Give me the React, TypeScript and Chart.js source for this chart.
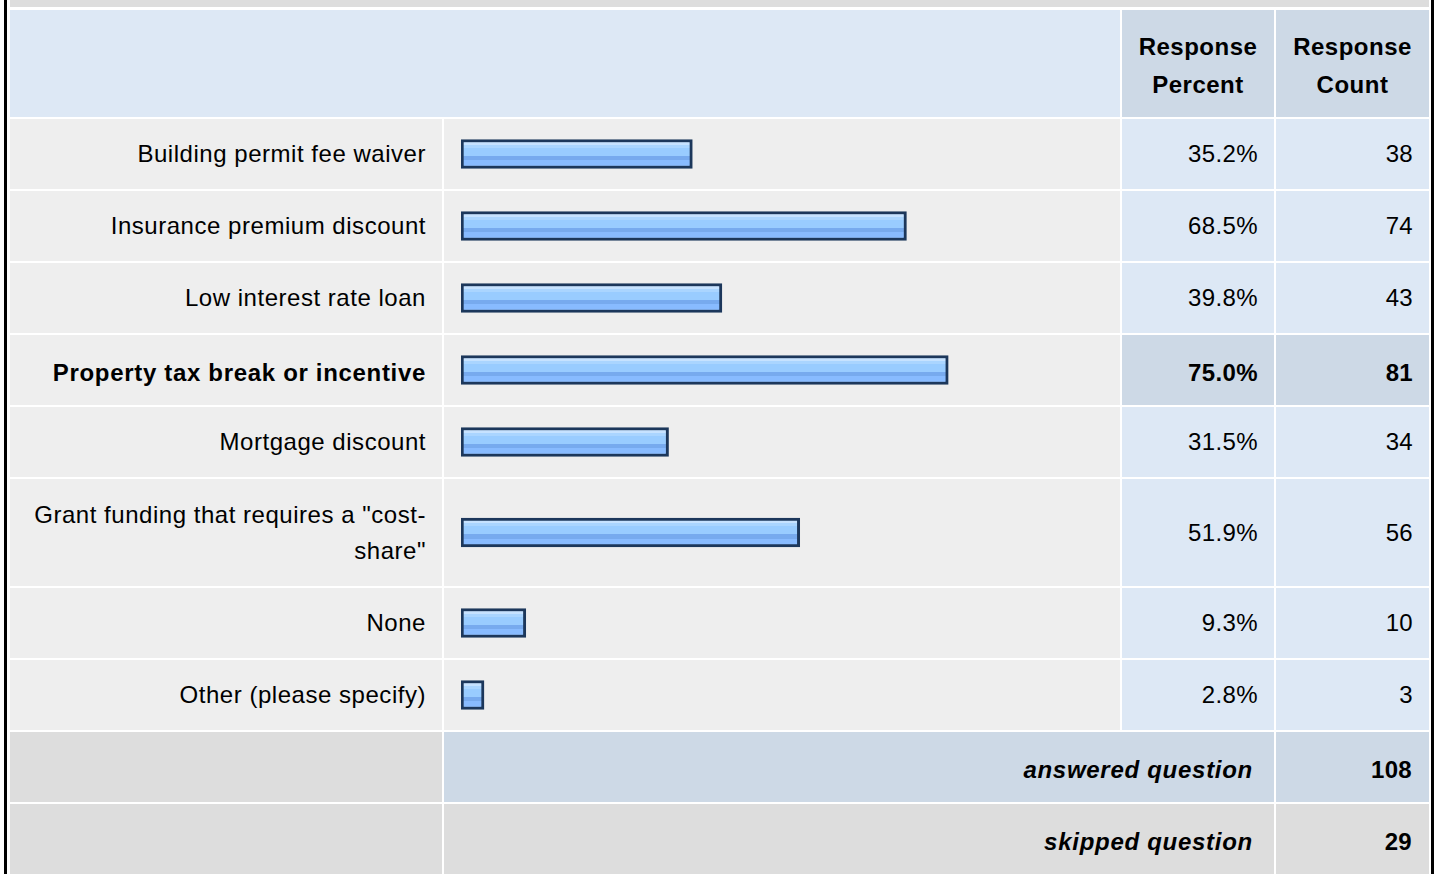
import React, { useEffect, useRef } from "react";
import { Chart, registerables } from "chart.js";

Chart.register(...registerables);

const categories = [
  "Building permit fee waiver",
  "Insurance premium discount",
  "Low interest rate loan",
  "Property tax break or incentive",
  "Mortgage discount",
  "Grant funding that requires a \"cost-share\"",
  "None",
  "Other (please specify)",
];
const percents = [35.2, 68.5, 39.8, 75.0, 31.5, 51.9, 9.3, 2.8];
const counts = [38, 74, 43, 81, 34, 56, 10, 3];
const headerLabels = ["Response Percent", "Response Count"];
const footerLabels = ["answered question", "skipped question"];
const footerCounts = [108, 29];
const highlightIndex = 3;

const FONT = '"Liberation Sans", Arial, Helvetica, sans-serif';
const LIGHT_BLUE = "#dde8f5";
const MID_BLUE = "#cdd9e6";
const GREY = "#eeeeee";
const DARK_GREY = "#dddddd";
const AXIS_MIN = -0.78;

function barFill(ctx: any) {
  const chart = ctx.chart;
  const ys = chart.scales && chart.scales.y;
  if (!ys || !chart.chartArea) return "#99ccff";
  const c = ys.getPixelForValue(ctx.dataIndex);
  const h = 14.5;
  const g = chart.ctx.createLinearGradient(0, c - h, 0, c + h);
  const stops: [number, string][] = [
    [0, "#c6e2ff"],
    [0.18, "#c6e2ff"],
    [0.18, "#aad5ff"],
    [0.28, "#aad5ff"],
    [0.28, "#99ccff"],
    [0.56, "#99ccff"],
    [0.56, "#77aaee"],
    [0.72, "#77aaee"],
    [0.72, "#88bbff"],
    [1, "#88bbff"],
  ];
  stops.forEach(([o, col]) => g.addColorStop(o, col));
  return g;
}

function BarCell({ label, value }: { label: string; value: number }) {
  const ref = useRef<HTMLCanvasElement>(null);
  useEffect(() => {
    const chart = new Chart(ref.current as HTMLCanvasElement, {
      type: "bar",
      data: {
        labels: [label],
        datasets: [
          {
            data: [value],
            base: AXIS_MIN,
            backgroundColor: barFill as any,
            borderColor: "#1c375b",
            borderWidth: 3,
            borderSkipped: false,
            barThickness: 29,
          } as any,
        ],
      },
      options: {
        indexAxis: "y",
        animation: false,
        responsive: true,
        maintainAspectRatio: false,
        events: [],
        layout: { padding: { left: 17, right: 11, top: 0, bottom: 0 } },
        scales: {
          x: { min: AXIS_MIN, max: 100, display: false },
          y: { display: false },
        },
        plugins: { legend: { display: false }, tooltip: { enabled: false } },
      },
    });
    return () => chart.destroy();
  }, [label, value]);
  return (
    <div style={{ position: "absolute", left: 0, top: 0, right: 0, bottom: 0 }}>
      <canvas ref={ref} />
    </div>
  );
}

const cellBase: React.CSSProperties = {
  padding: "0 16px",
  fontSize: 24,
  lineHeight: "36px",
  color: "#000",
  verticalAlign: "middle",
};

export default function App() {
  return (
    <div
      style={{
        position: "absolute",
        left: 0,
        top: 0,
        width: 1435,
        height: 874,
        overflow: "hidden",
        background: "#fff",
        fontFamily: FONT,
      }}
    >
      <div style={{ position: "absolute", left: 4, top: 0, width: 3, height: 874, background: "#000" }} />
      <div style={{ position: "absolute", left: 1431, top: 0, width: 3, height: 874, background: "#000" }} />
      <div style={{ position: "absolute", left: 10, top: 0, width: 1419, height: 7, background: DARK_GREY }} />
      <table
        style={{
          position: "absolute",
          left: 8,
          top: 8,
          width: 1423,
          borderCollapse: "separate",
          borderSpacing: 2,
          tableLayout: "fixed",
        }}
      >
        <colgroup>
          <col style={{ width: 432 }} />
          <col style={{ width: 676 }} />
          <col style={{ width: 152 }} />
          <col style={{ width: 153 }} />
        </colgroup>
        <tbody>
          <tr style={{ height: 107 }}>
            <td colSpan={2} style={{ background: LIGHT_BLUE }} />
            {headerLabels.map((h) => (
              <td
                key={h}
                style={{
                  ...cellBase,
                  background: MID_BLUE,
                  fontWeight: "bold",
                  textAlign: "center",
                  lineHeight: "38px",
                  padding: "4px 6px 0 6px",
                  letterSpacing: 0.5,
                }}
              >
                {h}
              </td>
            ))}
          </tr>
          {categories.map((cat, i) => {
            const hi = i === highlightIndex;
            const numBg = hi ? MID_BLUE : LIGHT_BLUE;
            const fw = hi ? "bold" : "normal";
            const pad = hi ? "6px 16px 0 16px" : "0 16px";
            return (
              <tr key={cat} style={{ height: cat.length > 35 ? 107 : 70 }}>
                <td
                  style={{
                    ...cellBase,
                    padding: pad,
                    background: GREY,
                    textAlign: "right",
                    fontWeight: fw,
                    letterSpacing: hi ? 0.68 : 0.53,
                  }}
                >
                  {cat}
                </td>
                <td style={{ background: GREY, position: "relative", padding: 0 }}>
                  <BarCell label={cat} value={percents[i]} />
                </td>
                <td
                  style={{
                    ...cellBase,
                    padding: pad,
                    background: numBg,
                    textAlign: "right",
                    fontWeight: fw,
                    letterSpacing: 0.4,
                  }}
                >
                  {percents[i].toFixed(1) + "%"}
                </td>
                <td
                  style={{
                    ...cellBase,
                    padding: pad,
                    background: numBg,
                    textAlign: "right",
                    fontWeight: fw,
                    letterSpacing: 0.3,
                  }}
                >
                  {counts[i]}
                </td>
              </tr>
            );
          })}
          {footerLabels.map((f, i) => {
            const bg = i === 0 ? MID_BLUE : DARK_GREY;
            return (
              <tr key={f} style={{ height: 70 }}>
                <td style={{ background: DARK_GREY }} />
                <td
                  colSpan={2}
                  style={{
                    ...cellBase,
                    background: bg,
                    textAlign: "right",
                    fontWeight: "bold",
                    fontStyle: "italic",
                    padding: "6px 21px 0 16px",
                    letterSpacing: 0.72,
                  }}
                >
                  {f}
                </td>
                <td
                  style={{
                    ...cellBase,
                    background: bg,
                    textAlign: "right",
                    fontWeight: "bold",
                    padding: "6px 17px 0 16px",
                    letterSpacing: 0.3,
                  }}
                >
                  {footerCounts[i]}
                </td>
              </tr>
            );
          })}
        </tbody>
      </table>
    </div>
  );
}
